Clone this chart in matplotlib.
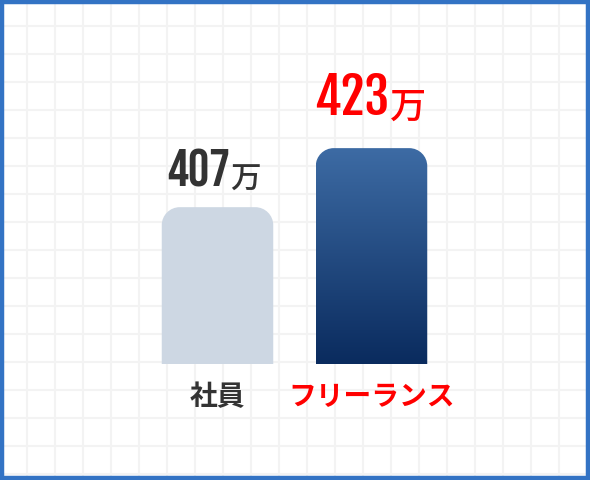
import numpy as np
import matplotlib.pyplot as plt
from matplotlib.colors import to_rgb
from matplotlib.path import Path
from matplotlib.patches import PathPatch, Rectangle

plt.rcParams["font.family"] = ["Noto Sans CJK JP", "DejaVu Sans"]

# data
categories = ["社員", "フリーランス"]
values = [407, 423]
unit = "万"

text_dark = "#333333"
text_red = "#ff0000"
label_colors = [text_dark, text_red]
bar_light = "#cdd7e3"
grad_top = "#3d6ba4"
grad_bottom = "#0a2b5e"
border_blue = "#3373c4"
grid_gray = "#f3f3f3"

W, H = 590, 480
fig = plt.figure(figsize=(W / 100, H / 100), dpi=100)
fig.patch.set_facecolor("white")

# background grid + frame (pixel coordinates)
bg = fig.add_axes([0, 0, 1, 1], zorder=0)
bg.set_xlim(0, W)
bg.set_ylim(H, 0)
bg.axis("off")
for gx in np.arange(27, W, 28):
    bg.axvline(gx, color=grid_gray, lw=1.5)
for gy in np.arange(26, H, 28):
    bg.axhline(gy, color=grid_gray, lw=1.5)
bg.add_patch(Rectangle((2, 2), W - 4, H - 4, fill=False,
                       edgecolor=border_blue, lw=3.2, zorder=5))

# main axes: baseline at y=364px, 154px between bar centres
ax = fig.add_axes([63.5 / W, (H - 364) / H, 462 / W, 324 / H], zorder=1)
ax.patch.set_alpha(0)
ax.axis("off")
ax.set_xlim(-1, 2)
ymin = 364.5
px_x = 462 / 3
px_y = 3.69
ax.set_ylim(ymin, ymin + 324 / px_y)

bar_w = 0.724
rad_px = 18


def rounded_top(x0, x1, y0, y1, rx, ry):
    k = 0.5523
    verts = [(x0, y0), (x0, y1 - ry),
             (x0, y1 - ry + k * ry), (x0 + rx - k * rx, y1), (x0 + rx, y1),
             (x1 - rx, y1),
             (x1 - rx + k * rx, y1), (x1, y1 - ry + k * ry), (x1, y1 - ry),
             (x1, y0), (x0, y0)]
    codes = [Path.MOVETO, Path.LINETO,
             Path.CURVE4, Path.CURVE4, Path.CURVE4,
             Path.LINETO,
             Path.CURVE4, Path.CURVE4, Path.CURVE4,
             Path.LINETO, Path.CLOSEPOLY]
    return Path(verts, codes)


rx = rad_px / px_x
ry = rad_px / px_y
for i, v in enumerate(values):
    x0, x1 = i - bar_w / 2, i + bar_w / 2
    path = rounded_top(x0, x1, ymin, v, rx, ry)
    if i == 0:
        ax.add_patch(PathPatch(path, facecolor=bar_light, edgecolor="none"))
    else:
        patch = PathPatch(path, facecolor="none", edgecolor="none")
        ax.add_patch(patch)
        c0 = np.array(to_rgb(grad_bottom))
        c1 = np.array(to_rgb(grad_top))
        t = np.linspace(0, 1, 256)[:, None]
        img = (c0 + (c1 - c0) * t)[:, None, :]
        im = ax.imshow(img, extent=(x0, x1, ymin, v), origin="lower",
                       aspect="auto", interpolation="bilinear")
        im.set_clip_path(patch)

# value labels
num_fonts = [["Bebas Neue", "DejaVu Sans"], ["Fjalla One", "DejaVu Sans"]]
num_sizes = [38, 36]
unit_sizes = [22, 26]
num_dx = [13, 18]       # px: right edge of digits from bar centre
num_dy = [21, 33]       # px: gap between bar top and baseline
for i, v in enumerate(values):
    col = label_colors[i]
    ax.annotate(str(v), xy=(i, v), xytext=(num_dx[i] * 0.72, num_dy[i] * 0.72),
                textcoords="offset points", ha="right", va="baseline",
                fontsize=num_sizes[i], color=col, family=num_fonts[i])
    ax.annotate(unit, xy=(i, v), xytext=(num_dx[i] * 0.72, num_dy[i] * 0.72 - 2),
                textcoords="offset points", ha="left", va="baseline",
                fontsize=unit_sizes[i], fontweight="medium", color=col)

# category labels
for i, c in enumerate(categories):
    ax.annotate(c, xy=(i, ymin), xytext=(0, -33 * 0.72),
                textcoords="offset points", ha="center", va="center",
                fontsize=20, fontweight="bold", color=label_colors[i])

fig.savefig("out.png", dpi=100)
